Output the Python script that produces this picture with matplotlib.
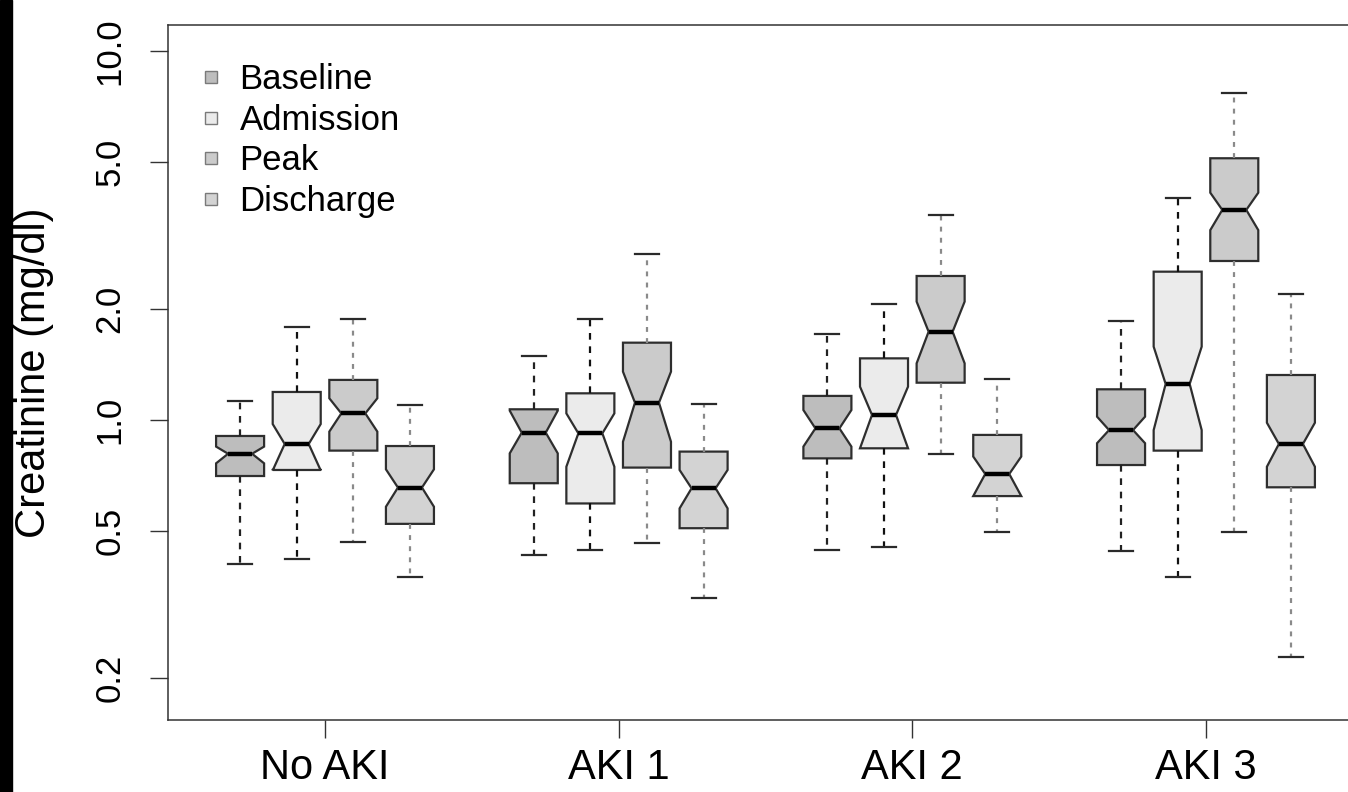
import matplotlib
matplotlib.use("Agg")
import matplotlib.pyplot as plt
import matplotlib.ticker as mticker
from matplotlib.lines import Line2D
from matplotlib.patches import Rectangle

GROUPS = ["No AKI", "AKI 1", "AKI 2", "AKI 3"]
SERIES = ["Baseline", "Admission", "Peak", "Discharge"]

# one row per group: whislo, q1, cilo, med, cihi, q3, whishi (mg/dl)
BASELINE = [
    [0.407, 0.705, 0.763, 0.810, 0.847, 0.905, 1.128],
    [0.431, 0.674, 0.812, 0.924, 1.060, 1.069, 1.491],
    [0.444, 0.787, 0.847, 0.949, 1.064, 1.162, 1.707],
    [0.442, 0.755, 0.865, 0.939, 1.021, 1.211, 1.858],
]
ADMISSION = [
    [0.419, 0.732, 0.730, 0.861, 0.975, 1.191, 1.783],
    [0.444, 0.594, 0.747, 0.920, 1.042, 1.181, 1.878],
    [0.452, 0.838, 0.838, 1.032, 1.231, 1.469, 2.063],
    [0.375, 0.826, 0.939, 1.252, 1.580, 2.523, 3.988],
]
PEAK = [
    [0.466, 0.826, 0.930, 1.042, 1.145, 1.284, 1.875],
    [0.465, 0.743, 0.873, 1.114, 1.352, 1.620, 2.812],
    [0.809, 1.262, 1.424, 1.735, 2.093, 2.456, 3.593],
    [0.498, 2.697, 3.270, 3.710, 4.130, 5.120, 7.680],
]
DISCHARGE = [
    [0.376, 0.523, 0.582, 0.656, 0.735, 0.850, 1.098],
    [0.329, 0.509, 0.576, 0.653, 0.732, 0.821, 1.103],
    [0.498, 0.622, 0.622, 0.714, 0.796, 0.911, 1.289],
    [0.2275, 0.657, 0.747, 0.861, 0.983, 1.324, 2.195],
]

Y_TICKS = [0.2, 0.5, 1.0, 2.0, 5.0, 10.0]
Y_TICK_LABELS = ["0.2", "0.5", "1.0", "2.0", "5.0", "10.0"]

FILLS = ["#bdbdbd", "#ebebeb", "#cbcbcb", "#d3d3d3"]
WHISKER_COLORS = ["#222222", "#111111", "#8a8a8a", "#8a8a8a"]
STAT_KEYS = ["whislo", "q1", "cilo", "med", "cihi", "q3", "whishi"]

BOX_STEP = 0.1928
BOX_WIDTH = 0.1635

plt.rcParams["font.family"] = ["Liberation Sans", "DejaVu Sans"]


def to_stats(rows):
    return [dict(zip(STAT_KEYS, r)) for r in rows]


fig = plt.figure(figsize=(13.48, 7.92), dpi=100)
fig.patches.append(Rectangle((0, 0), 12 / 1348, 1, transform=fig.transFigure,
                             color="black", zorder=0))
ax = fig.add_axes([168 / 1348, 72 / 792, (1360 - 168) / 1348, 695 / 792])

for j, (name, rows) in enumerate(zip(SERIES, [BASELINE, ADMISSION, PEAK, DISCHARGE])):
    pos = [g + (j - 1.5) * BOX_STEP for g in range(len(GROUPS))]
    dash = (0, (3, 3)) if j < 2 else (0, (2.2, 2.8))
    ax.bxp(
        to_stats(rows), positions=pos, widths=BOX_WIDTH,
        shownotches=True, showfliers=False, patch_artist=True,
        manage_ticks=False,
        boxprops=dict(facecolor=FILLS[j], edgecolor="#2e2e2e", linewidth=1.6),
        whiskerprops=dict(color=WHISKER_COLORS[j], linestyle=dash, linewidth=1.6),
        capprops=dict(color="#2a2a2a", linewidth=1.6),
        medianprops=dict(color="black", linewidth=3.2, solid_capstyle="butt"),
    )

ax.set_yscale("log")
ax.set_ylim(0.1538, 11.76)
ax.set_xlim(-0.5347, 3.5245)
ax.yaxis.set_major_locator(mticker.FixedLocator(Y_TICKS))
ax.yaxis.set_major_formatter(mticker.FixedFormatter(Y_TICK_LABELS))
ax.yaxis.set_minor_locator(mticker.NullLocator())
ax.set_xticks(range(len(GROUPS)))
ax.set_xticklabels(GROUPS)

for s in ax.spines.values():
    s.set_color("#333333")
    s.set_linewidth(1.1)

ax.tick_params(axis="both", length=13, width=1.0, color="#333333")
ax.tick_params(axis="y", labelsize=25, pad=17, labelrotation=90)
ax.tick_params(axis="x", labelsize=30, pad=7)
for lab in ax.get_yticklabels():
    lab.set_va("center")

ax.set_ylabel("Creatinine (mg/dl)", fontsize=30)
ax.yaxis.set_label_coords(-0.096, 0.5)

handles = [
    Line2D([], [], marker="s", linestyle="none", markersize=8.5,
           markerfacecolor=c, markeredgecolor="#7a7a7a", markeredgewidth=1.0)
    for c in FILLS
]
ax.legend(handles, SERIES, loc="upper left", bbox_to_anchor=(0.0285, 0.9453),
          frameon=False, fontsize=25, handlelength=0.5, handletextpad=0.58,
          labelspacing=0.22, borderpad=0, borderaxespad=0)

fig.savefig("out.png", dpi=100, facecolor="white")
